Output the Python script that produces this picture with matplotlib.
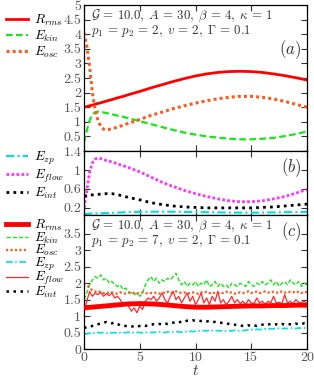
import numpy as np
import matplotlib
matplotlib.use("Agg")
import matplotlib.pyplot as plt

plt.rcParams['font.family'] = 'serif'
plt.rcParams['font.serif'] = ['cmr10', 'DejaVu Serif']
plt.rcParams['mathtext.fontset'] = 'cm'
plt.rcParams['axes.formatter.use_mathtext'] = True

# ---- panels (a) and (b): smooth curves ----
t_ab = [0, 0.25, 0.5, 0.75, 1, 1.25, 1.5, 1.75, 2, 2.5, 3, 3.5, 4,
        5, 6, 7, 8, 9, 10, 11, 12, 13, 14, 15, 16, 17, 18, 19, 20]

r_rms_a = [1.5, 1.52, 1.55, 1.57, 1.6, 1.63, 1.65, 1.68, 1.71, 1.76, 1.82, 1.87, 1.93,
           2.04, 2.16, 2.27, 2.38, 2.48, 2.57, 2.64, 2.69, 2.72, 2.73, 2.72, 2.69, 2.64, 2.58, 2.51, 2.43]
e_kin_a = [0.3, 0.7, 1.05, 1.25, 1.33, 1.35, 1.34, 1.32, 1.3, 1.26, 1.21, 1.17, 1.12,
           1.02, 0.92, 0.82, 0.72, 0.63, 0.56, 0.5, 0.46, 0.42, 0.4, 0.4, 0.42, 0.45, 0.51, 0.58, 0.67]
e_osc_a = [4.05, 3.6, 2.9, 2.0, 1.4, 1.05, 0.85, 0.75, 0.72, 0.76, 0.82, 0.88, 0.95,
           1.08, 1.22, 1.33, 1.45, 1.55, 1.64, 1.72, 1.79, 1.84, 1.87, 1.87, 1.84, 1.78, 1.7, 1.6, 1.5]

e_zp_b = [0.07, 0.075, 0.08, 0.082, 0.085, 0.087, 0.088, 0.089, 0.09, 0.095, 0.1, 0.105, 0.11,
          0.115, 0.12, 0.12, 0.12, 0.115, 0.11, 0.11, 0.105, 0.1, 0.1, 0.1, 0.1, 0.105, 0.11, 0.11, 0.115]
e_flow_b = [0.2, 0.55, 0.95, 1.15, 1.23, 1.25, 1.24, 1.22, 1.2, 1.17, 1.13, 1.09, 1.05,
            0.96, 0.85, 0.74, 0.65, 0.57, 0.5, 0.44, 0.39, 0.35, 0.33, 0.33, 0.35, 0.39, 0.44, 0.51, 0.59]
e_int_b = [0.45, 0.46, 0.47, 0.475, 0.48, 0.485, 0.49, 0.495, 0.5, 0.5, 0.48, 0.45, 0.42,
           0.37, 0.31, 0.27, 0.24, 0.22, 0.21, 0.2, 0.2, 0.2, 0.2, 0.2, 0.21, 0.22, 0.24, 0.26, 0.28]

# ---- panel (c): noisy runs ----
t_c = np.linspace(0, 20, 81)

r_rms_t = list(range(21))
r_rms_c = [1.25, 1.28, 1.31, 1.34, 1.37, 1.38, 1.37, 1.35, 1.32, 1.29, 1.27,
           1.27, 1.28, 1.29, 1.3, 1.31, 1.31, 1.32, 1.32, 1.33, 1.33]

e_kin_c = [1.5, 1.7, 1.95, 2.1, 2.2, 2.15, 2.25, 2.1, 2.15,
           2.0, 2.05, 1.95, 1.9, 1.95, 1.8, 1.85, 1.75,
           1.7, 1.65, 1.7, 1.6, 1.7, 1.95, 2.1, 2.2,
           2.05, 2.15, 2.0, 2.1, 2.05, 2.15, 2.1, 2.2,
           2.3, 2.1, 1.95, 2.05, 1.9, 2.0, 1.95, 2.05,
           1.9, 2.0, 1.95, 2.1, 1.9, 1.95, 2.05, 1.9,
           2.0, 1.9, 1.95, 1.85, 2.0, 1.95, 1.9, 2.0,
           1.95, 1.9, 2.05, 1.95, 1.9, 2.0, 1.95, 2.05,
           1.95, 2.0, 2.1, 1.95, 2.05, 1.9, 2.0, 2.05,
           1.95, 2.1, 2.0, 1.95, 2.05, 1.9, 2.0, 1.95]

e_osc_c = [2.0, 1.95, 1.85, 1.78, 1.75, 1.72, 1.75, 1.7, 1.72,
           1.7, 1.72, 1.7, 1.68, 1.72, 1.7, 1.68, 1.7,
           1.72, 1.7, 1.68, 1.7, 1.72, 1.7, 1.68, 1.7,
           1.72, 1.7, 1.68, 1.72, 1.7, 1.74, 1.7, 1.72,
           1.75, 1.72, 1.7, 1.72, 1.68, 1.7, 1.72, 1.7,
           1.68, 1.72, 1.7, 1.74, 1.7, 1.68, 1.72, 1.7,
           1.72, 1.7, 1.74, 1.7, 1.72, 1.68, 1.7, 1.72,
           1.7, 1.72, 1.75, 1.7, 1.72, 1.74, 1.7, 1.72,
           1.75, 1.72, 1.7, 1.74, 1.72, 1.7, 1.75, 1.72,
           1.7, 1.74, 1.72, 1.76, 1.72, 1.7, 1.74, 1.72]

e_zp_c = [0.45, 0.46, 0.48, 0.5, 0.48, 0.5, 0.49, 0.5, 0.48,
          0.5, 0.49, 0.5, 0.48, 0.5, 0.49, 0.5, 0.51,
          0.49, 0.5, 0.51, 0.5, 0.49, 0.5, 0.51, 0.5,
          0.51, 0.5, 0.52, 0.51, 0.5, 0.52, 0.51, 0.52,
          0.53, 0.52, 0.51, 0.53, 0.52, 0.54, 0.53, 0.54,
          0.55, 0.54, 0.56, 0.55, 0.57, 0.56, 0.55, 0.56,
          0.55, 0.54, 0.55, 0.56, 0.55, 0.57, 0.56, 0.55,
          0.56, 0.57, 0.58, 0.59, 0.58, 0.6, 0.59, 0.6,
          0.61, 0.6, 0.62, 0.61, 0.62, 0.63, 0.62, 0.63,
          0.62, 0.64, 0.63, 0.62, 0.64, 0.63, 0.64, 0.63]

e_flow_c = [1.1, 1.45, 1.75, 1.6, 1.7, 1.65, 1.72, 1.6, 1.68,
            1.62, 1.7, 1.55, 1.6, 1.5, 1.35, 1.4, 1.3,
            1.15, 1.25, 1.1, 1.3, 1.2, 1.45, 1.55, 1.5,
            1.6, 1.45, 1.55, 1.7, 1.5, 1.4, 1.6, 1.75,
            1.5, 1.6, 1.4, 1.55, 1.7, 1.45, 1.6, 1.35,
            1.5, 1.7, 1.4, 1.55, 1.35, 1.6, 1.45, 1.75,
            1.4, 1.5, 1.35, 1.45, 1.6, 1.4, 1.5, 1.38,
            1.45, 1.35, 1.5, 1.4, 1.38, 1.55, 1.4, 1.45,
            1.35, 1.45, 1.4, 1.6, 1.4, 1.42, 1.38, 1.65,
            1.4, 1.45, 1.38, 1.5, 1.42, 1.4, 1.45, 1.38]

e_int_c = [0.65, 0.65, 0.68, 0.7, 0.72, 0.75, 0.78, 0.8, 0.82,
           0.8, 0.78, 0.8, 0.76, 0.72, 0.7, 0.7, 0.68,
           0.68, 0.7, 0.68, 0.7, 0.72, 0.7, 0.72, 0.74,
           0.75, 0.74, 0.76, 0.75, 0.78, 0.76, 0.78, 0.8,
           0.82, 0.8, 0.84, 0.83, 0.86, 0.85, 0.87, 0.86,
           0.86, 0.85, 0.86, 0.84, 0.85, 0.83, 0.82, 0.8,
           0.8, 0.78, 0.78, 0.76, 0.74, 0.74, 0.72, 0.72,
           0.7, 0.7, 0.72, 0.7, 0.72, 0.7, 0.72, 0.74,
           0.72, 0.74, 0.76, 0.74, 0.75, 0.73, 0.76, 0.74,
           0.76, 0.75, 0.74, 0.77, 0.75, 0.76, 0.78, 0.76]

yticks_a = [0.5, 1, 1.5, 2, 2.5, 3, 3.5, 4, 4.5, 5]
yticks_b = [0.2, 0.6, 1, 1.4]
yticks_c = [0, 0.5, 1, 1.5, 2, 2.5, 3, 3.5]
xticks = [0, 5, 10, 15, 20]

RED = '#ff0000'
GREEN = '#19e619'
ORANGE = '#ff5a1e'
CYAN = '#00e0e0'
MAGENTA = '#ff33ff'

line1 = r'$\mathcal{G}\,=\,10.0,\;A\,=\,30,\;\beta\,=\,4,\;\kappa\,=\,1$'
line2a = r'$p_1\,=\,p_2\,=\,2,\;v\,=\,2,\;\Gamma\,=\,0.1$'
line2c = r'$p_1\,=\,p_2\,=\,7,\;v\,=\,2,\;\Gamma\,=\,0.1$'

W, H = 314, 379
fig = plt.figure(figsize=(W / 100, H / 100), dpi=100)

def box(top, bottom):
    return [84 / W, 1 - bottom / H, (307 - 84) / W, (bottom - top) / H]

ax_a = fig.add_axes(box(5, 151))
ax_b = fig.add_axes(box(151, 215))
ax_c = fig.add_axes(box(215, 349))

def fmt(v):
    return ('%g' % v)

for ax, yt in [(ax_a, yticks_a), (ax_b, yticks_b), (ax_c, yticks_c)]:
    ax.set_xlim(0, 20)
    ax.set_xticks(xticks)
    ax.set_yticks(yt)
    ax.set_yticklabels([fmt(v) for v in yt])
    ax.tick_params(direction='in', top=True, right=True, length=4, width=0.8,
                   labelsize=10, colors='#333333', labelcolor='#555555', pad=2)
    for s in ax.spines.values():
        s.set_linewidth(0.9)

ax_a.set_ylim(0, 5)
ax_b.set_ylim(0.05, 1.4)
ax_c.set_ylim(0, 4.07)
ax_a.tick_params(labelbottom=False)
ax_b.tick_params(labelbottom=False)
ax_c.set_xticklabels([fmt(v) for v in xticks])

# (a)
la = [
    ax_a.plot(t_ab, r_rms_a, color=RED, lw=2.0, label=r'$R_{rms}$')[0],
    ax_a.plot(t_ab, e_kin_a, color=GREEN, lw=1.6, ls=(0, (3, 1.5)), label=r'$E_{kin}$')[0],
    ax_a.plot(t_ab, e_osc_a, color=ORANGE, lw=2.2, ls=(0, (1, 1)), label=r'$E_{osc}$')[0],
]
# (b)
lb = [
    ax_b.plot(t_ab, e_zp_b, color=CYAN, lw=1.5, ls=(0, (4, 1.5, 1, 1.5)), label=r'$E_{zp}$')[0],
    ax_b.plot(t_ab, e_flow_b, color=MAGENTA, lw=2.0, ls=(0, (1, 0.8)), label=r'$E_{flow}$')[0],
    ax_b.plot(t_ab, e_int_b, color='black', lw=2.0, ls=(0, (1, 1.5)), label=r'$E_{int}$')[0],
]
# (c)
lc = [
    ax_c.plot(r_rms_t, r_rms_c, color=RED, lw=3.5, label=r'$R_{rms}$', zorder=4)[0],
    ax_c.plot(t_c, e_kin_c, color=GREEN, lw=1.0, ls=(0, (3, 1.5)), label=r'$E_{kin}$')[0],
    ax_c.plot(t_c, e_osc_c, color=ORANGE, lw=1.6, ls=(0, (1, 1)), label=r'$E_{osc}$')[0],
    ax_c.plot(t_c, e_zp_c, color=CYAN, lw=1.2, ls=(0, (4, 1.5, 1, 1.5)), label=r'$E_{zp}$')[0],
    ax_c.plot(t_c, e_flow_c, color='#ff2a2a', lw=0.9, label=r'$E_{flow}$')[0],
    ax_c.plot(t_c, e_int_c, color='black', lw=1.8, ls=(0, (1, 1.8)), label=r'$E_{int}$')[0],
]

leg_kw = dict(loc='upper left', frameon=False, fontsize=9.5, handlelength=1.7,
              handletextpad=0.4, borderpad=0, borderaxespad=0, labelspacing=0.05)
fig.legend(handles=la, bbox_to_anchor=(6 / W, 1 - 13 / H), **leg_kw)
fig.legend(handles=lb, bbox_to_anchor=(6 / W, 1 - 150 / H), **leg_kw)
leg_kw['labelspacing'] = -0.2
fig.legend(handles=lc, bbox_to_anchor=(6 / W, 1 - 218 / H), **leg_kw)

def ypix(ax, px):
    # fraction of axes height for px pixels below the axes top
    return 1 - px / (ax.get_position().height * H)

for ax, l2, lab, labpx in [(ax_a, line2a, '(a)', 45), (ax_c, line2c, '(c)', 17)]:
    ax.text(0.03, ypix(ax, 11), line1, transform=ax.transAxes, ha='left', va='center',
            fontsize=9.3, color='#333333')
    ax.text(0.03, ypix(ax, 26), l2, transform=ax.transAxes, ha='left', va='center',
            fontsize=9.3, color='#333333')
    ax.text(0.975, ypix(ax, labpx), '$' + lab + '$', transform=ax.transAxes, ha='right',
            va='center', fontsize=12, color='#333333')
ax_b.text(0.975, ypix(ax_b, 17), '$(b)$', transform=ax_b.transAxes, ha='right', va='center',
          fontsize=12, color='#333333')

ax_c.set_xlabel('$t$', fontsize=11, labelpad=0, color='#333333')

fig.savefig('out.png', dpi=100)
